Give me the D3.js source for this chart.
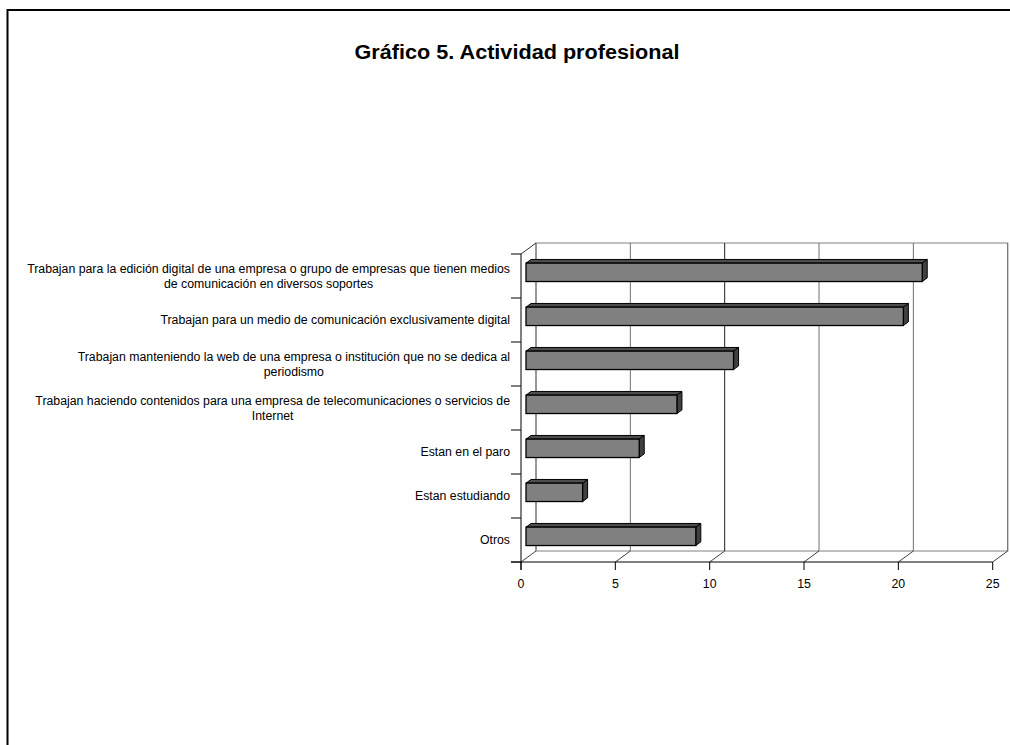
<!DOCTYPE html>
<html><head><meta charset="utf-8">
<script src="https://cdn.jsdelivr.net/npm/d3@7"></script>
<style>body{margin:0;background:#fff}svg{display:block}text{font-family:"Liberation Sans",Arial,sans-serif}</style>
</head><body>
<script>
const title = "Gráfico 5. Actividad profesional";
const categories = [
  ["Trabajan para la edición digital de una empresa o grupo de empresas que tienen medios", "de comunicación en diversos soportes"],
  ["Trabajan para un medio de comunicación exclusivamente digital"],
  ["Trabajan manteniendo la web de una empresa o institución que no se dedica al", "periodismo"],
  ["Trabajan haciendo contenidos para una empresa de telecomunicaciones o servicios de", "Internet"],
  ["Estan en el paro"],
  ["Estan estudiando"],
  ["Otros"]
];
const values = [21, 20, 11, 8, 6, 3, 9];
const xTicks = [0, 5, 10, 15, 20, 25];

(function() {
const W = 1010, H = 745;
const FS = 12.3;
const svg = d3.select("body").append("svg").attr("width", W).attr("height", H);

// outer frame (extends beyond view)
svg.append("path").attr("d", "M7.5,760 V10 H1030").attr("fill", "none").attr("stroke", "#000").attr("stroke-width", 2);

svg.append("text").attr("x", 517).attr("y", 59).attr("text-anchor", "middle")
  .attr("font-size", 19.5).attr("font-weight", "bold")
  .attr("textLength", 325).attr("lengthAdjust", "spacingAndGlyphs").text(title);

const x = d3.scaleLinear().domain([0, 25]).range([521, 992.7]);
const keys = categories.map((c, i) => i);
const y = d3.scaleBand().domain(keys).range([254, 562]);
const DX = 15, DY = -11;
const yTop = 254, yBot = 562;

const g = svg.append("g");
// back wall
g.append("rect").attr("x", x(0) + DX).attr("y", yTop + DY).attr("width", x(25) - x(0)).attr("height", yBot - yTop)
  .attr("fill", "#fff").attr("stroke", "#808080").attr("stroke-width", 1);
// gridlines on back wall
g.selectAll("line.grid").data(xTicks).join("line")
  .attr("x1", d => x(d) + DX).attr("x2", d => x(d) + DX)
  .attr("y1", yTop + DY).attr("y2", yBot + DY)
  .attr("stroke", d => d === 10 ? "#202020" : "#707070").attr("stroke-width", 1);
// floor diagonals
g.selectAll("line.fd").data(xTicks).join("line")
  .attr("x1", d => x(d)).attr("x2", d => x(d) + DX)
  .attr("y1", yBot).attr("y2", yBot + DY)
  .attr("stroke", "#404040").attr("stroke-width", 1);
// left wall top diagonal
g.append("line").attr("x1", x(0)).attr("y1", yTop).attr("x2", x(0) + DX).attr("y2", yTop + DY)
  .attr("stroke", "#303030");

// front axes
g.append("line").attr("x1", x(0)).attr("x2", x(0)).attr("y1", yTop).attr("y2", yBot + 8).attr("stroke", "#000");
g.append("line").attr("x1", x(0) - 10).attr("x2", x(25)).attr("y1", yBot).attr("y2", yBot).attr("stroke", "#000");
// y ticks at band boundaries
const yb = keys.map(k => y(k)).concat([yBot]);
g.selectAll("line.yt").data(yb).join("line")
  .attr("x1", x(0) - 10).attr("x2", x(0)).attr("y1", d => d).attr("y2", d => d).attr("stroke", "#000");
// x ticks
g.selectAll("line.xt").data(xTicks).join("line")
  .attr("x1", d => x(d)).attr("x2", d => x(d)).attr("y1", yBot).attr("y2", yBot + 8).attr("stroke", "#000");
g.selectAll("text.xl").data(xTicks).join("text")
  .attr("x", d => x(d)).attr("y", 588).attr("text-anchor", "middle").attr("font-size", FS).text(d => d);

// bars (positioned at middle third of depth)
const bdx = DX / 3, bdy = DY / 3;
const bh = 18.4;
const bars = g.selectAll("g.bar").data(values).join("g");
bars.each(function(v, i) {
  const s = d3.select(this);
  const x0 = x(0) + bdx, x1 = x(v) + bdx;
  const yc = y(i) + y.bandwidth() / 2 + bdy;
  const y0 = yc - bh / 2, y1 = yc + bh / 2;
  s.append("path").attr("d", `M${x0},${y0} L${x0 + bdx},${y0 + bdy} L${x1 + bdx},${y0 + bdy} L${x1},${y0} Z`)
    .attr("fill", "#4d4d4d").attr("stroke", "#000").attr("stroke-width", 1).attr("stroke-linejoin", "round");
  s.append("path").attr("d", `M${x1},${y0} L${x1 + bdx},${y0 + bdy} L${x1 + bdx},${y1 + bdy} L${x1},${y1} Z`)
    .attr("fill", "#404040").attr("stroke", "#000").attr("stroke-width", 1).attr("stroke-linejoin", "round");
  s.append("rect").attr("x", x0).attr("y", y0).attr("width", x1 - x0).attr("height", bh)
    .attr("fill", "#808080").attr("stroke", "#000").attr("stroke-width", 1.3);
});

// category labels
categories.forEach((lines, i) => {
  const yc = y(i) + y.bandwidth() / 2;
  const lh = 15;
  const t = svg.append("text").attr("font-size", FS).attr("text-anchor", "middle");
  const tmp = svg.append("text").attr("font-size", FS);
  let maxW = 0;
  lines.forEach(l => { tmp.text(l); maxW = Math.max(maxW, tmp.node().getComputedTextLength()); });
  tmp.remove();
  const cx = 510 - maxW / 2;
  lines.forEach((l, j) => {
    t.append("tspan").attr("x", cx).attr("y", yc + 4.3 + (j - (lines.length - 1) / 2) * lh).text(l);
  });
});
})();
</script>
</body></html>
